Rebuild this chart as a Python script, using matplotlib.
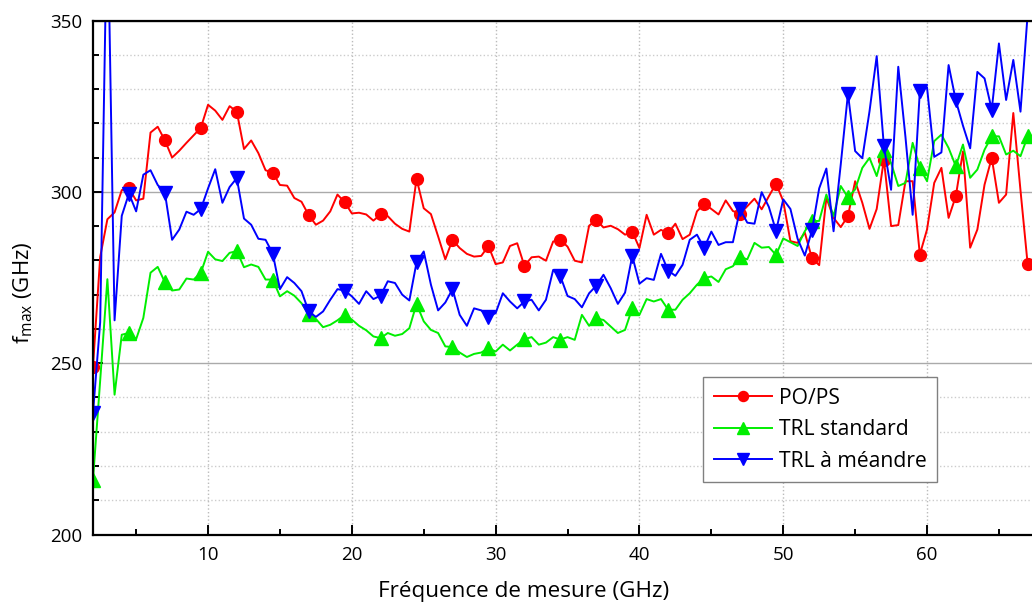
import numpy as np
import matplotlib
matplotlib.use("Agg")
import matplotlib.pyplot as plt
from matplotlib.ticker import MultipleLocator

plt.rcParams['font.family'] = ['Open Sans', 'DejaVu Sans']
plt.rcParams['mathtext.default'] = 'regular'

# Measurement sweep: 2 GHz to 67 GHz, 0.5 GHz step
freq_ghz = np.arange(2.0, 67.01, 0.5)

fmax_po_ps = [
    249, 281, 292, 294, 300.5, 301, 297.5, 298, 317.3, 319,
    315, 310, 312, 314.3, 316.5, 318.7, 325.4, 323.7, 321, 325,
    323.4, 312.5, 315, 311.3, 306.3, 305.6, 302, 301.8, 298.2, 297.1,
    293.2, 290.4, 291.6, 294.3, 299.2, 297, 293.7, 293.9, 293.4, 291.6,
    293.4, 292.9, 290.7, 289.2, 288.4, 303.8, 295.2, 293.5, 287, 280.3,
    286, 283.6, 281.9, 281.1, 281.3, 284.2, 278.9, 279.4, 284.2, 285,
    278.4, 280.9, 281.1, 279.9, 285.5, 286, 284, 279.9, 279.4, 290.1,
    291.8, 289.6, 290.1, 289.1, 287.5, 288.4, 283.6, 293.3, 287.5, 288.9,
    287.9, 290.7, 286.2, 287.5, 294.3, 296.5, 295, 293.4, 297.5, 294.4,
    293.6, 295.8, 298, 294.9, 298.7, 302.4, 297.3, 285.6, 285.1, 288.1,
    280.6, 278.6, 298.3, 292.4, 289.7, 292.9, 303.1, 296.8, 289.2, 295,
    309.4, 290, 290.3, 303.1, 303.1, 281.7, 289, 302.6, 307, 292.4,
    298.7, 311.8, 283.7, 289, 302.1, 309.9, 296.8, 299.2, 323, 300.4,
    278.8,
]

fmax_trl_std = [
    216, 245, 274.5, 240.8, 258.3, 258.8, 257, 263.2, 276.4, 278.1,
    273.6, 271.2, 271.5, 274.7, 274.4, 276.4, 282.5, 280.3, 279.8, 282.2,
    282.7, 278, 278.8, 278.1, 274.4, 274.4, 269.5, 271, 269.7, 267.5,
    264.3, 262.9, 260.5, 261.2, 262.5, 264.1, 262.7, 260.9, 259.6, 257.8,
    257.3, 258.8, 258, 258.5, 260.2, 267.3, 262.2, 259.7, 258.8, 254.9,
    254.7, 253.1, 251.8, 252.7, 253.1, 254.4, 253.4, 255.4, 253.7, 255.4,
    257, 257.6, 255.4, 256, 257.6, 256.9, 257.6, 256.8, 264.1, 260.9,
    263.1, 262.6, 260.7, 258.8, 259.7, 266, 264.1, 268.7, 268, 268.7,
    265.6, 265.6, 268.5, 270.4, 272.9, 274.8, 275.3, 273.7, 277.4, 278.3,
    281, 280.3, 285.1, 283.7, 283.9, 281.6, 286.4, 285.3, 284.2, 288.5,
    291.5, 291.5, 299.2, 292.9, 301.7, 298.4, 300.7, 307, 309.9, 304.6,
    312.3, 308.4, 301.7, 302.6, 314.3, 307, 303.1, 314.8, 316.7, 312.8,
    307.5, 313.8, 304.1, 306.5, 312.3, 316.2, 316.2, 310.9, 312, 310.4,
    316.2,
]

fmax_trl_meandre = [
    235.4, 262, 385, 262.5, 293, 299.5, 294.3, 305, 306.3, 302,
    299.7, 286, 289, 294.2, 293.3, 295, 301, 306.6, 296.8, 301.4,
    304, 292.2, 290.4, 286.3, 286, 282, 271.6, 275.1, 273.4, 271,
    265.1, 263.5, 265.1, 268.5, 271.6, 271.2, 269.5, 267.3, 271, 268.7,
    269.7, 273.9, 273.4, 270, 268.3, 279.4, 282.6, 272.9, 265.4, 267.7,
    271.6, 264.1, 260.9, 266, 265.4, 263.6, 264.6, 270.4, 268, 266,
    268, 268.5, 265.4, 268.5, 277.2, 275.4, 269.6, 268.7, 266.3, 270.4,
    272.6, 275.8, 271.9, 267.3, 270.6, 281.3, 273.2, 274.8, 274.3, 281.9,
    277, 275.5, 278.7, 286, 287.5, 283.6, 288.4, 284.5, 285.3, 285.3,
    294.9, 291, 290.7, 299.9, 295.6, 288.6, 297.8, 295, 286.3, 281.4,
    288.8, 301, 306.8, 288.5, 308, 328.6, 311.9, 309.8, 323.5, 339.6,
    313.3, 300.6, 336.5, 316, 293.3, 329.5, 330.5, 310.2, 311.5, 337,
    326.7, 319.3, 312.7, 335, 333.1, 324, 343.3, 326.8, 338.5, 323.4,
    352,
]

series_labels = ["PO/PS", "TRL standard", "TRL à méandre"]
series_colors = ["#ff0000", "#00ee00", "#0000ff"]
series_markers = ["o", "^", "v"]
series_msize = [8.5, 10, 10]

fig = plt.figure(figsize=(10.32, 6.04), dpi=100)
ax = fig.add_axes([93 / 1032, 1 - 534.5 / 604, 1 - 93 / 1032, 514 / 604])

for y, lab, col, mk, ms in zip([fmax_po_ps, fmax_trl_std, fmax_trl_meandre],
                               series_labels, series_colors, series_markers, series_msize):
    ax.plot(freq_ghz, y, color=col, lw=1.4, marker=mk, markersize=ms,
            markevery=5, label=lab)

ax.set_xlim(2, 67.3)
ax.set_ylim(200, 350)

ax.xaxis.set_major_locator(MultipleLocator(10))
ax.xaxis.set_minor_locator(MultipleLocator(5))
ax.yaxis.set_major_locator(MultipleLocator(50))
ax.yaxis.set_minor_locator(MultipleLocator(10))

ax.tick_params(which='both', direction='in', top=False, right=False,
               width=1.4, labelsize=13.5, pad=8, colors='black')
ax.tick_params(which='major', length=7.5)
ax.tick_params(which='minor', length=4.5)

ax.grid(axis='x', which='major', linestyle=':', color='#bbbbbb', lw=1)
ax.grid(axis='y', which='minor', linestyle=':', color='#cccccc', lw=1)
ax.grid(axis='y', which='major', linestyle='-', color='#aaaaaa', lw=1)
ax.set_axisbelow(True)

for side in ['left', 'bottom', 'top']:
    ax.spines[side].set_linewidth(1.6)
    ax.spines[side].set_color('black')
ax.spines['right'].set_visible(False)

ax.set_xlabel("Fréquence de mesure (GHz)", fontsize=16.2)
ax.xaxis.set_label_coords((524 - 93) / 939, -(592 - 534.5) / 514)
ax.xaxis.label.set_va('center')
ax.set_ylabel("f$_{max}$ (GHz)", fontsize=16)
ax.yaxis.set_label_coords(-(93 - 23) / 939, (534.5 - 293) / 514)
ax.yaxis.label.set_va('center')

leg = ax.legend(loc='upper left', bbox_to_anchor=(0.6496, 0.3064),
                borderaxespad=0, fontsize=15.2, fancybox=False, framealpha=1,
                edgecolor='#808080', handlelength=2.75, handletextpad=0.35,
                labelspacing=0.5, borderpad=0.5, markerscale=0.85)
leg.get_frame().set_linewidth(1.0)

fig.savefig("out.png", dpi=100)
